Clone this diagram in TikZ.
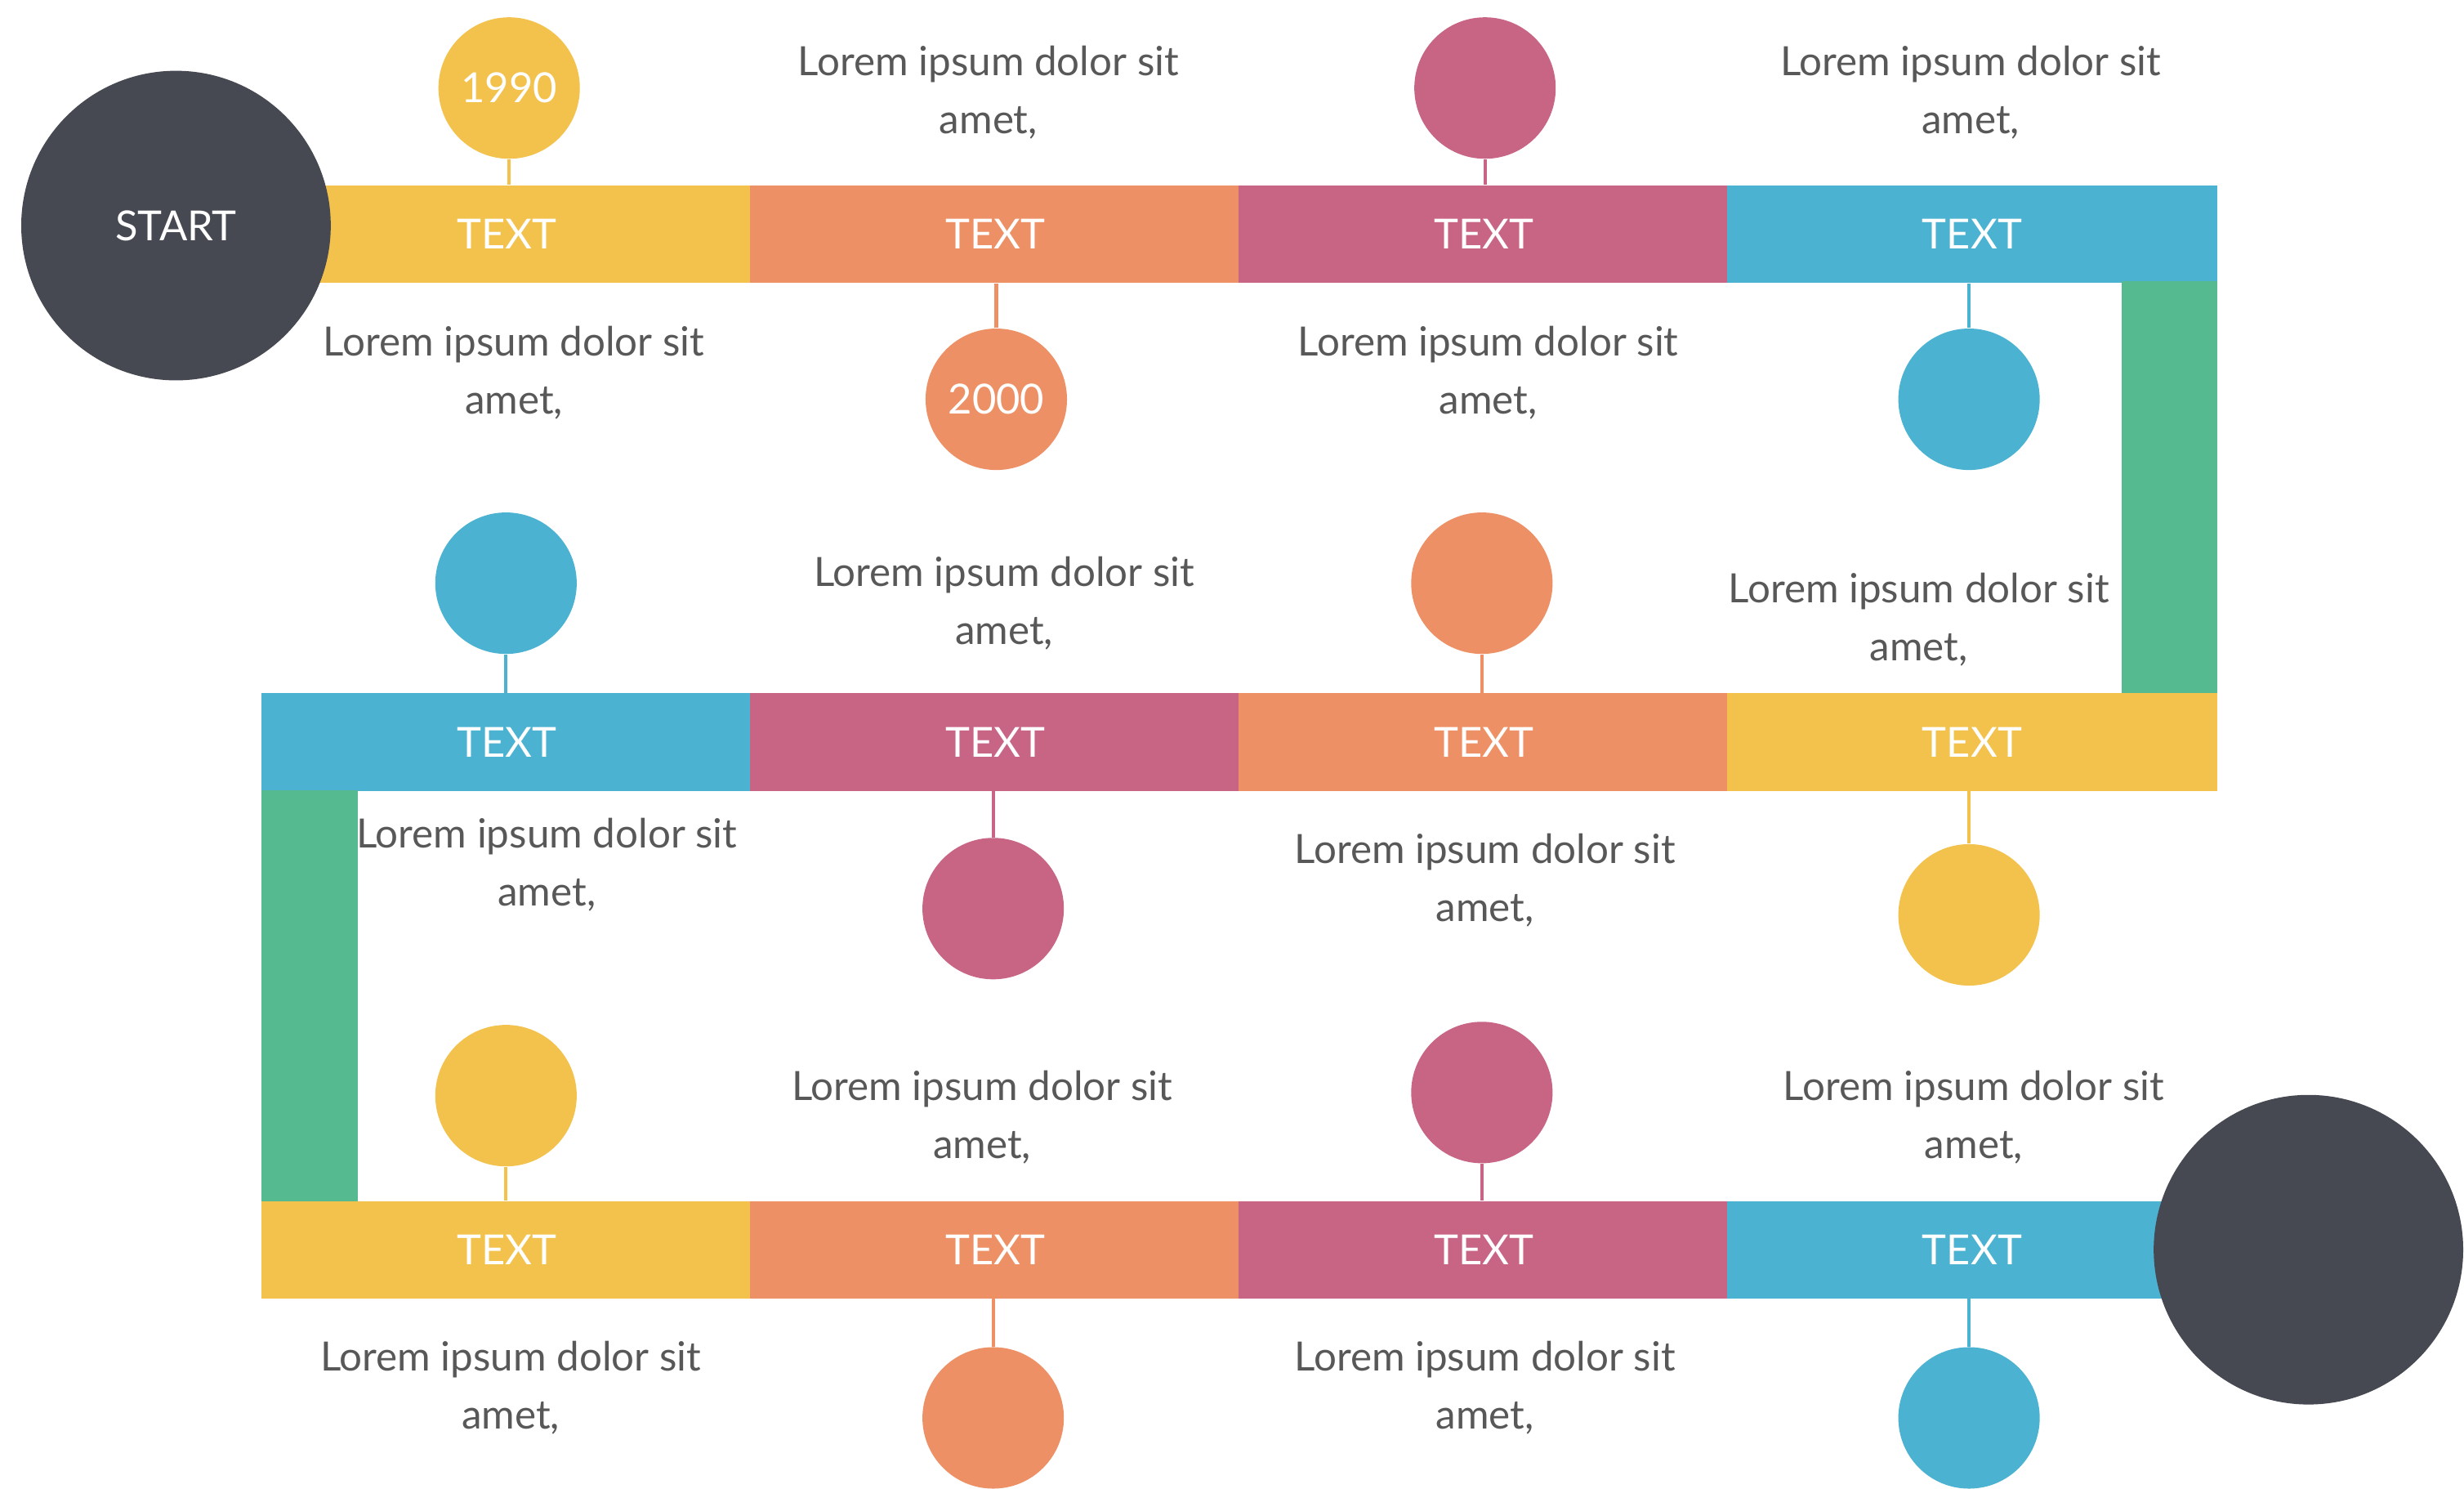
\documentclass[tikz,border=0pt]{standalone}
\usepackage{fontspec}
\setmainfont{Lato}
\usetikzlibrary{calc}
\definecolor{tlyellow}{HTML}{F3C24D}
\definecolor{tlorange}{HTML}{EE9065}
\definecolor{tlpink}{HTML}{C86585}
\definecolor{tlblue}{HTML}{4BB2D2}
\definecolor{tlgreen}{HTML}{55BA8F}
\definecolor{tldark}{HTML}{464852}
\definecolor{tltext}{HTML}{585858}
\tikzset{
	mybar/.style={rectangle, fill=#1, minimum width=6.25cm, minimum height=1.24cm,
				inner sep=0pt, text=white, font=\fontsize{15}{18}\selectfont
				},
	myside/.style={rectangle, fill=tlgreen, minimum width=1.22cm, minimum height=5.26cm,
				inner sep=0pt
				},
	mydot/.style={circle, fill=#1, minimum size=1.8cm, inner sep=0pt,
				text=white, font=\fontsize{15}{18}\selectfont
				},
	myend/.style={circle, fill=tldark, minimum size=3.94cm, inner sep=0pt,
				text=white, font=\fontsize{15}{18}\selectfont
				},
	mystem/.style={draw=#1, line width=1.2pt
				},
	mynote/.style={align=center, inner sep=0pt, text=tltext,
				font=\fontsize{14.6}{21}\selectfont
				}
	}

\begin{document}
\begin{tikzpicture}[x=0.02cm, y=-0.02cm]

				\useasboundingbox (0,0) rectangle (1568,947);

				% first row
				\node[mybar=tlyellow] (b11) at (322.5,149) {TEXT};
				\node[mybar=tlorange] (b12) at (633.5,149) {TEXT};
				\node[mybar=tlpink]   (b13) at (944.5,149) {TEXT};
				\node[mybar=tlblue]   (b14) at (1255,149) {TEXT};

				\node[myside] (turnright) at (1380.5,310.5) {};

				% second row
				\node[mybar=tlblue]   (b21) at (322.5,472) {TEXT};
				\node[mybar=tlpink]   (b22) at (633.5,472) {TEXT};
				\node[mybar=tlorange] (b23) at (944.5,472) {TEXT};
				\node[mybar=tlyellow] (b24) at (1255,472) {TEXT};

				\node[myside] (turnleft) at (197,634) {};

				% third row
				\node[mybar=tlyellow] (b31) at (322.5,795) {TEXT};
				\node[mybar=tlorange] (b32) at (633.5,795) {TEXT};
				\node[mybar=tlpink]   (b33) at (944.5,795) {TEXT};
				\node[mybar=tlblue]   (b34) at (1255,795) {TEXT};

				\node[myend] (start) at (112,143.5) {START};
				\node[myend] (finish) at (1469,795) {};

				% dots
				\node[mydot=tlyellow] (d11) at (324,56) {1990};
				\node[mydot=tlpink]   (d13) at (945,56) {};
				\node[mydot=tlorange] (d12) at (634,254) {2000};
				\node[mydot=tlblue]   (d14) at (1253,254) {};

				\node[mydot=tlblue]   (d21) at (322,371) {};
				\node[mydot=tlorange] (d23) at (943,371) {};
				\node[mydot=tlpink]   (d22) at (632,578) {};
				\node[mydot=tlyellow] (d24) at (1253,582) {};

				\node[mydot=tlyellow] (d31) at (322,697) {};
				\node[mydot=tlpink]   (d33) at (943,695) {};
				\node[mydot=tlorange] (d32) at (632,902) {};
				\node[mydot=tlblue]   (d34) at (1253,902) {};

				\draw[mystem=tlyellow] (d11.south) -- (d11.south |- b11.north);
				\draw[mystem=tlpink]   (d13.south) -- (d13.south |- b13.north);
				\draw[mystem=tlorange] (d12.north) -- (d12.north |- b12.south);
				\draw[mystem=tlblue]   (d14.north) -- (d14.north |- b14.south);

				\draw[mystem=tlblue]   (d21.south) -- (d21.south |- b21.north);
				\draw[mystem=tlorange] (d23.south) -- (d23.south |- b23.north);
				\draw[mystem=tlpink]   (d22.north) -- (d22.north |- b22.south);
				\draw[mystem=tlyellow] (d24.north) -- (d24.north |- b24.south);

				\draw[mystem=tlyellow] (d31.south) -- (d31.south |- b31.north);
				\draw[mystem=tlpink]   (d33.south) -- (d33.south |- b33.north);
				\draw[mystem=tlorange] (d32.north) -- (d32.north |- b32.south);
				\draw[mystem=tlblue]   (d34.north) -- (d34.north |- b34.south);

				% notes
				\node[mynote] (n12) at (629,59) {Lorem ipsum dolor sit\\amet,};
				\node[mynote] (n14) at (1254,59) {Lorem ipsum dolor sit\\amet,};
				\node[mynote] (n11) at (327,237) {Lorem ipsum dolor sit\\amet,};
				\node[mynote] (n13) at (947,237) {Lorem ipsum dolor sit\\amet,};

				\node[mynote] (n22) at (639,384) {Lorem ipsum dolor sit\\amet,};
				\node[mynote] (n24) at (1221,394) {Lorem ipsum dolor sit\\amet,};
				\node[mynote] (n21) at (348,550) {Lorem ipsum dolor sit\\amet,};
				\node[mynote] (n23) at (945,560) {Lorem ipsum dolor sit\\amet,};

				\node[mynote] (n32) at (625,711) {Lorem ipsum dolor sit\\amet,};
				\node[mynote] (n34) at (1256,711) {Lorem ipsum dolor sit\\amet,};
				\node[mynote] (n31) at (325,883) {Lorem ipsum dolor sit\\amet,};
				\node[mynote] (n33) at (945,883) {Lorem ipsum dolor sit\\amet,};

\end{tikzpicture}
\end{document}
